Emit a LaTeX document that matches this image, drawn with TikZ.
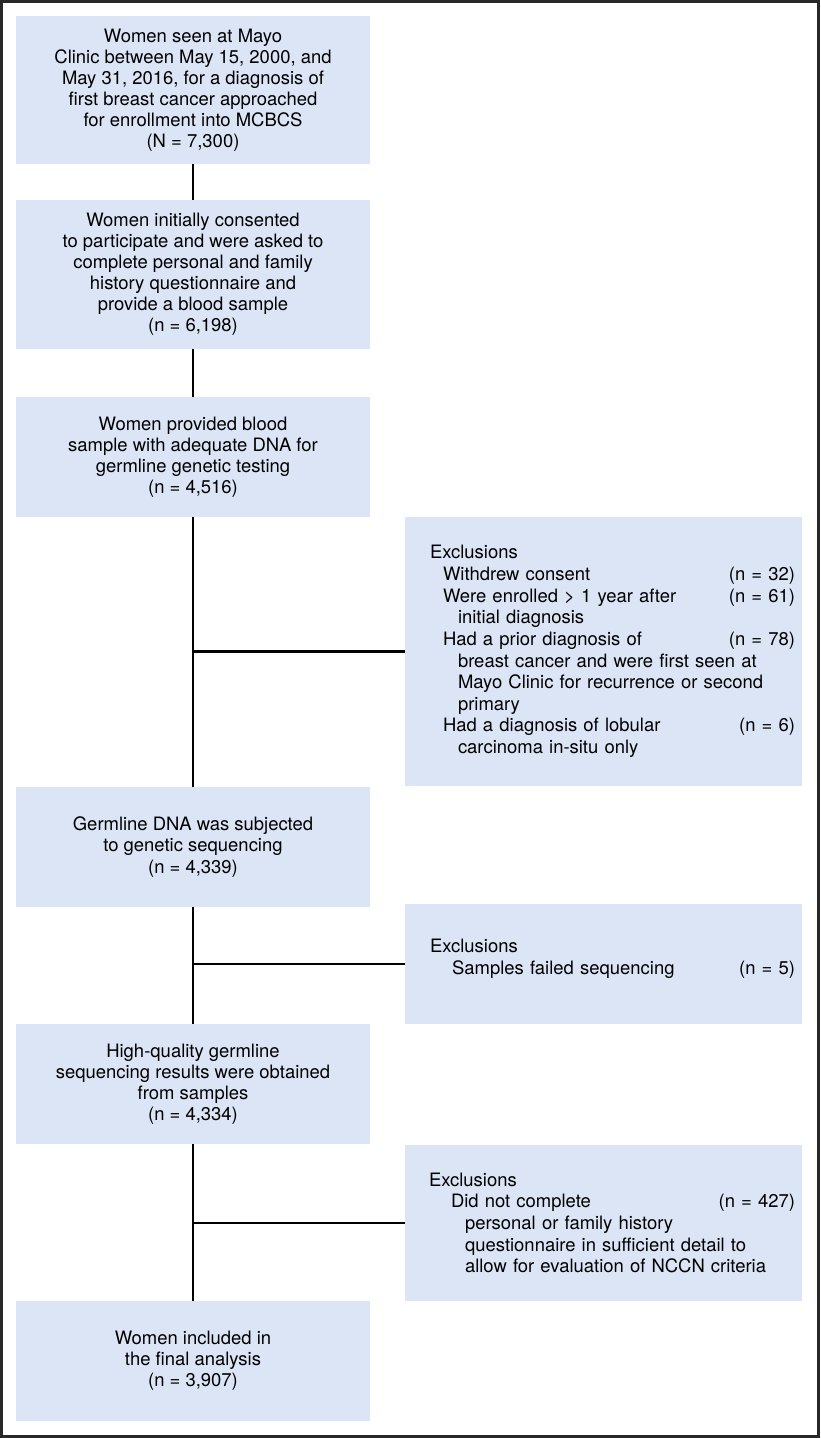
\documentclass[tikz,border=0pt]{standalone}
\usepackage{fontspec}
\setmainfont{TeX Gyre Heros}
\usepackage{tikz}
\usetikzlibrary{positioning,calc}

\definecolor{boxblue}{RGB}{219,229,246}
\definecolor{framegray}{RGB}{40,40,40}

% one line of an exclusion list: indent, text, count
\newcommand{\exrow}[3]{\hspace*{#1}#2\hfill#3\kern0.14cm\\}

\begin{document}
\begin{tikzpicture}[
		box/.style={fill=boxblue, minimum width=7.08cm, inner sep=0pt, align=center,
			font=\fontsize{10.5}{12}\selectfont},
		exbox/.style={fill=boxblue, text width=7.94cm, inner xsep=0pt, inner ysep=0pt, align=left,
			font=\fontsize{10.5}{12.3}\selectfont},
		link/.style={line width=1.4pt, black}
	]
	
	\useasboundingbox (0,0) rectangle (16.4,-28.76);
	\draw[framegray, line width=1.3pt] (0.03,-0.03) rectangle (16.37,-28.73);
	
	% main column
	\node[box, minimum height=2.96cm] (w1) at (3.86,-1.80)
		{Women seen at Mayo\\Clinic between May 15, 2000, and\\May 31, 2016, for a diagnosis of\\first breast cancer approached\\for enrollment into MCBCS\\(N = 7,300)};
	\node[box, minimum height=2.98cm] (w2) at (3.86,-5.49)
		{Women initially consented\\to participate and were asked to\\complete personal and family\\history questionnaire and\\provide a blood sample\\(n = 6,198)};
	\node[box, minimum height=2.40cm] (w3) at (3.86,-9.14)
		{Women provided blood\\sample with adequate DNA for\\germline genetic testing\\(n = 4,516)};
	\node[box, minimum height=2.40cm] (w4) at (3.86,-16.94)
		{Germline DNA was subjected\\to genetic sequencing\\(n = 4,339)};
	\node[box, minimum height=2.40cm] (w5) at (3.86,-21.68)
		{High-quality germline\\sequencing results were obtained\\from samples\\(n = 4,334)};
	\node[box, minimum height=2.40cm] (w6) at (3.86,-27.22)
		{Women included in\\the final analysis\\(n = 3,907)};
	
	% exclusions
	\node[exbox, minimum height=5.38cm] (ex1) at (12.07,-13.03)
		{\hspace*{0.5cm}Exclusions\\
		\exrow{0.76cm}{Withdrew consent}{(n = 32)}
		\exrow{0.76cm}{Were enrolled > 1 year after}{(n = 61)}
		\exrow{1.06cm}{initial diagnosis}{}
		\exrow{0.76cm}{Had a prior diagnosis of}{(n = 78)}
		\exrow{1.06cm}{breast cancer and were first seen at}{}
		\exrow{1.06cm}{Mayo Clinic for recurrence or second}{}
		\exrow{1.06cm}{primary}{}
		\exrow{0.76cm}{Had a diagnosis of lobular}{(n = 6)}
		\hspace*{1.06cm}carcinoma in-situ only};
	\node[exbox, minimum height=2.40cm] (ex2) at (12.07,-19.28)
		{\hspace*{0.5cm}Exclusions\\
		\hspace*{0.94cm}Samples failed sequencing\hfill(n = 5)\kern0.14cm\rule[-0.3cm]{0pt}{0pt}};
	\node[exbox, minimum height=3.12cm] (ex3) at (12.07,-24.46)
		{\hspace*{0.48cm}Exclusions\\
		\exrow{0.92cm}{Did not complete}{(n = 427)}
		\exrow{1.2cm}{personal or family history}{}
		\exrow{1.2cm}{questionnaire in sufficient detail to}{}
		\hspace*{1.2cm}allow for evaluation of NCCN criteria};
	
	% connectors
	\draw[link] (w1) -- (w2);
	\draw[link] (w2) -- (w3);
	\draw[link] (w3) -- (w4);
	\draw[link] (w4) -- (w5);
	\draw[link] (w5) -- (w6);
	\draw[link] (w3 |- ex1.west) -- (ex1.west);
	\draw[link] (w4 |- ex2.west) -- (ex2.west);
	\draw[link] (w5 |- ex3.west) -- (ex3.west);
\end{tikzpicture}
\end{document}
